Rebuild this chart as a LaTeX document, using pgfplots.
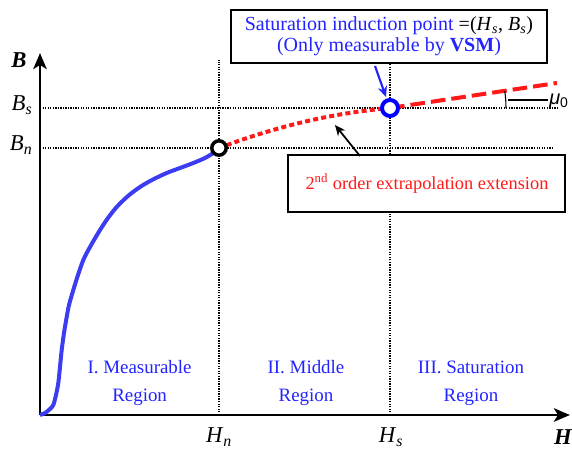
\documentclass[border=0pt]{standalone}
\usepackage{pgfplots}
\pgfplotsset{compat=1.18}
\usepackage{fontspec}
\setmainfont{Liberation Serif}
\newfontfamily\sansf{Liberation Sans}
\usetikzlibrary{arrows.meta}
\definecolor{cblue}{RGB}{60,60,240}
\definecolor{tblue}{RGB}{35,35,255}
\definecolor{cred}{RGB}{255,25,25}
\begin{document}
\begin{tikzpicture}
\begin{axis}[x=0.75pt,y=0.75pt,xmin=0,xmax=530,ymin=0,ymax=362,
  axis lines=left,
  axis line style={line width=2.2pt,-{Stealth[length=12pt,width=10pt,inset=3pt]}},
  ticks=none, clip=false]
\coordinate (BL) at (axis cs:-40,-35);
\coordinate (TR) at (axis cs:532,415);
% reference dotted lines
\addplot[black,line width=1.1pt,dash pattern=on 1pt off 0.9pt] coordinates {(0,307)(517,307)};
\addplot[black,line width=1.1pt,dash pattern=on 1pt off 0.9pt] coordinates {(0,267)(512,267)};
\addplot[black,line width=1.1pt,dash pattern=on 1pt off 0.9pt] coordinates {(179,0)(179,355)};
\addplot[black,line width=1.1pt,dash pattern=on 1pt off 0.9pt] coordinates {(350,0)(350,352)};
% measured curve
\addplot[cblue,line width=3pt,smooth] coordinates {
(0,0)(5,2)(10,6)(13.3,10)(16,20)(18.3,32)(20,48)(21.7,65)(24,82)(26.7,98)(29,110)(33.3,125)(38,140)(43.3,155)(50,168)(60,185)(68,197)(76.7,208)(88,219)(100,228)(112,235)(126.7,242)(140,247)(153.3,252)(165,257)(173.3,262)(179,267)};
% extrapolation
\addplot[cred,line width=3pt,dash pattern=on 3.75pt off 2.4pt,smooth] coordinates {
(179,267)(200,274.6)(220,281.1)(240,287)(260,292.2)(280,296.7)(300,300.5)(320,303.6)(340,306.1)(350,307)};
\addplot[cred,line width=3pt,dash pattern=on 11pt off 4.5pt] coordinates {(350,307)(517,332)};
% points
\addplot[only marks,mark=*,mark size=5.4pt,mark options={fill=white,draw=black,line width=2.6pt}] coordinates {(179,267)};
\addplot[only marks,mark=*,mark size=6pt,mark options={fill=white,draw=blue,line width=3pt}] coordinates {(350,307)};
% mu0 angle
\draw[black,line width=0.8pt] (axis cs:466,307) arc[start angle=0,end angle=8.4,radius=87pt];
\draw[black,line width=0.8pt] (axis cs:468,315) -- (axis cs:508,315);
\node[anchor=west,inner sep=0pt,font=\sansf\itshape\fontsize{15}{17}\selectfont] at (axis cs:509,314) {μ\textsubscript{\upshape 0}};
% boxes
\draw[fill=white,line width=2.2pt] (axis cs:191,352) rectangle (axis cs:507,405);
\node[align=center,text=tblue,font=\fontsize{15}{15.75}\selectfont] at (axis cs:349,378.5)
  {Saturation induction point {\color{black}=(\textit{H}\textsubscript{\textit{s}}, \textit{B}\textsubscript{\textit{s}})}\\(Only measurable by \textbf{VSM})};
\draw[fill=white,line width=2.2pt] (axis cs:248,203) rectangle (axis cs:525,260);
\node[text=cred,font=\fontsize{13.8}{15}\selectfont] at (axis cs:387,231.5)
  {2\textsuperscript{nd} order extrapolation extension};
% arrows
\draw[tblue,line width=1.6pt,-{Stealth[length=8pt,width=7pt]}] (axis cs:335,349) -- (axis cs:346,318);
\draw[black,line width=1.3pt,-{Stealth[length=8pt,width=7pt]}] (axis cs:320,259) -- (axis cs:295,290);
% region labels
\node[align=center,text=tblue,font=\fontsize{14.2}{20.8}\selectfont] at (axis cs:99.6,32) {I. Measurable\\Region};
\node[align=center,text=tblue,font=\fontsize{14.2}{20.8}\selectfont] at (axis cs:266,32) {II. Middle\\Region};
\node[align=center,text=tblue,font=\fontsize{14.2}{20.8}\selectfont] at (axis cs:431,32) {III. Saturation\\Region};
% axis labels
\node[font=\fontsize{17}{20}\selectfont\bfseries\itshape] at (axis cs:-21,355) {B};
\node[anchor=east,inner sep=1pt,font=\fontsize{17}{20}\selectfont] at (axis cs:-6,310) {\textit{B}\textsubscript{\textit{s}}};
\node[anchor=east,inner sep=1pt,font=\fontsize{17}{20}\selectfont] at (axis cs:-6,270) {\textit{B}\textsubscript{\textit{n}}};
\node[inner sep=0pt,font=\fontsize{17}{20}\selectfont] at (axis cs:179,-22) {\textit{H}\textsubscript{\textit{n}}};
\node[inner sep=0pt,font=\fontsize{17}{20}\selectfont] at (axis cs:351,-22) {\textit{H}\textsubscript{\textit{s}}};
\node[inner sep=0pt,font=\fontsize{17}{20}\selectfont\bfseries\itshape] at (axis cs:523,-22) {H};
\end{axis}
\pgfresetboundingbox
\useasboundingbox (BL) rectangle (TR);
\end{tikzpicture}
\end{document}
